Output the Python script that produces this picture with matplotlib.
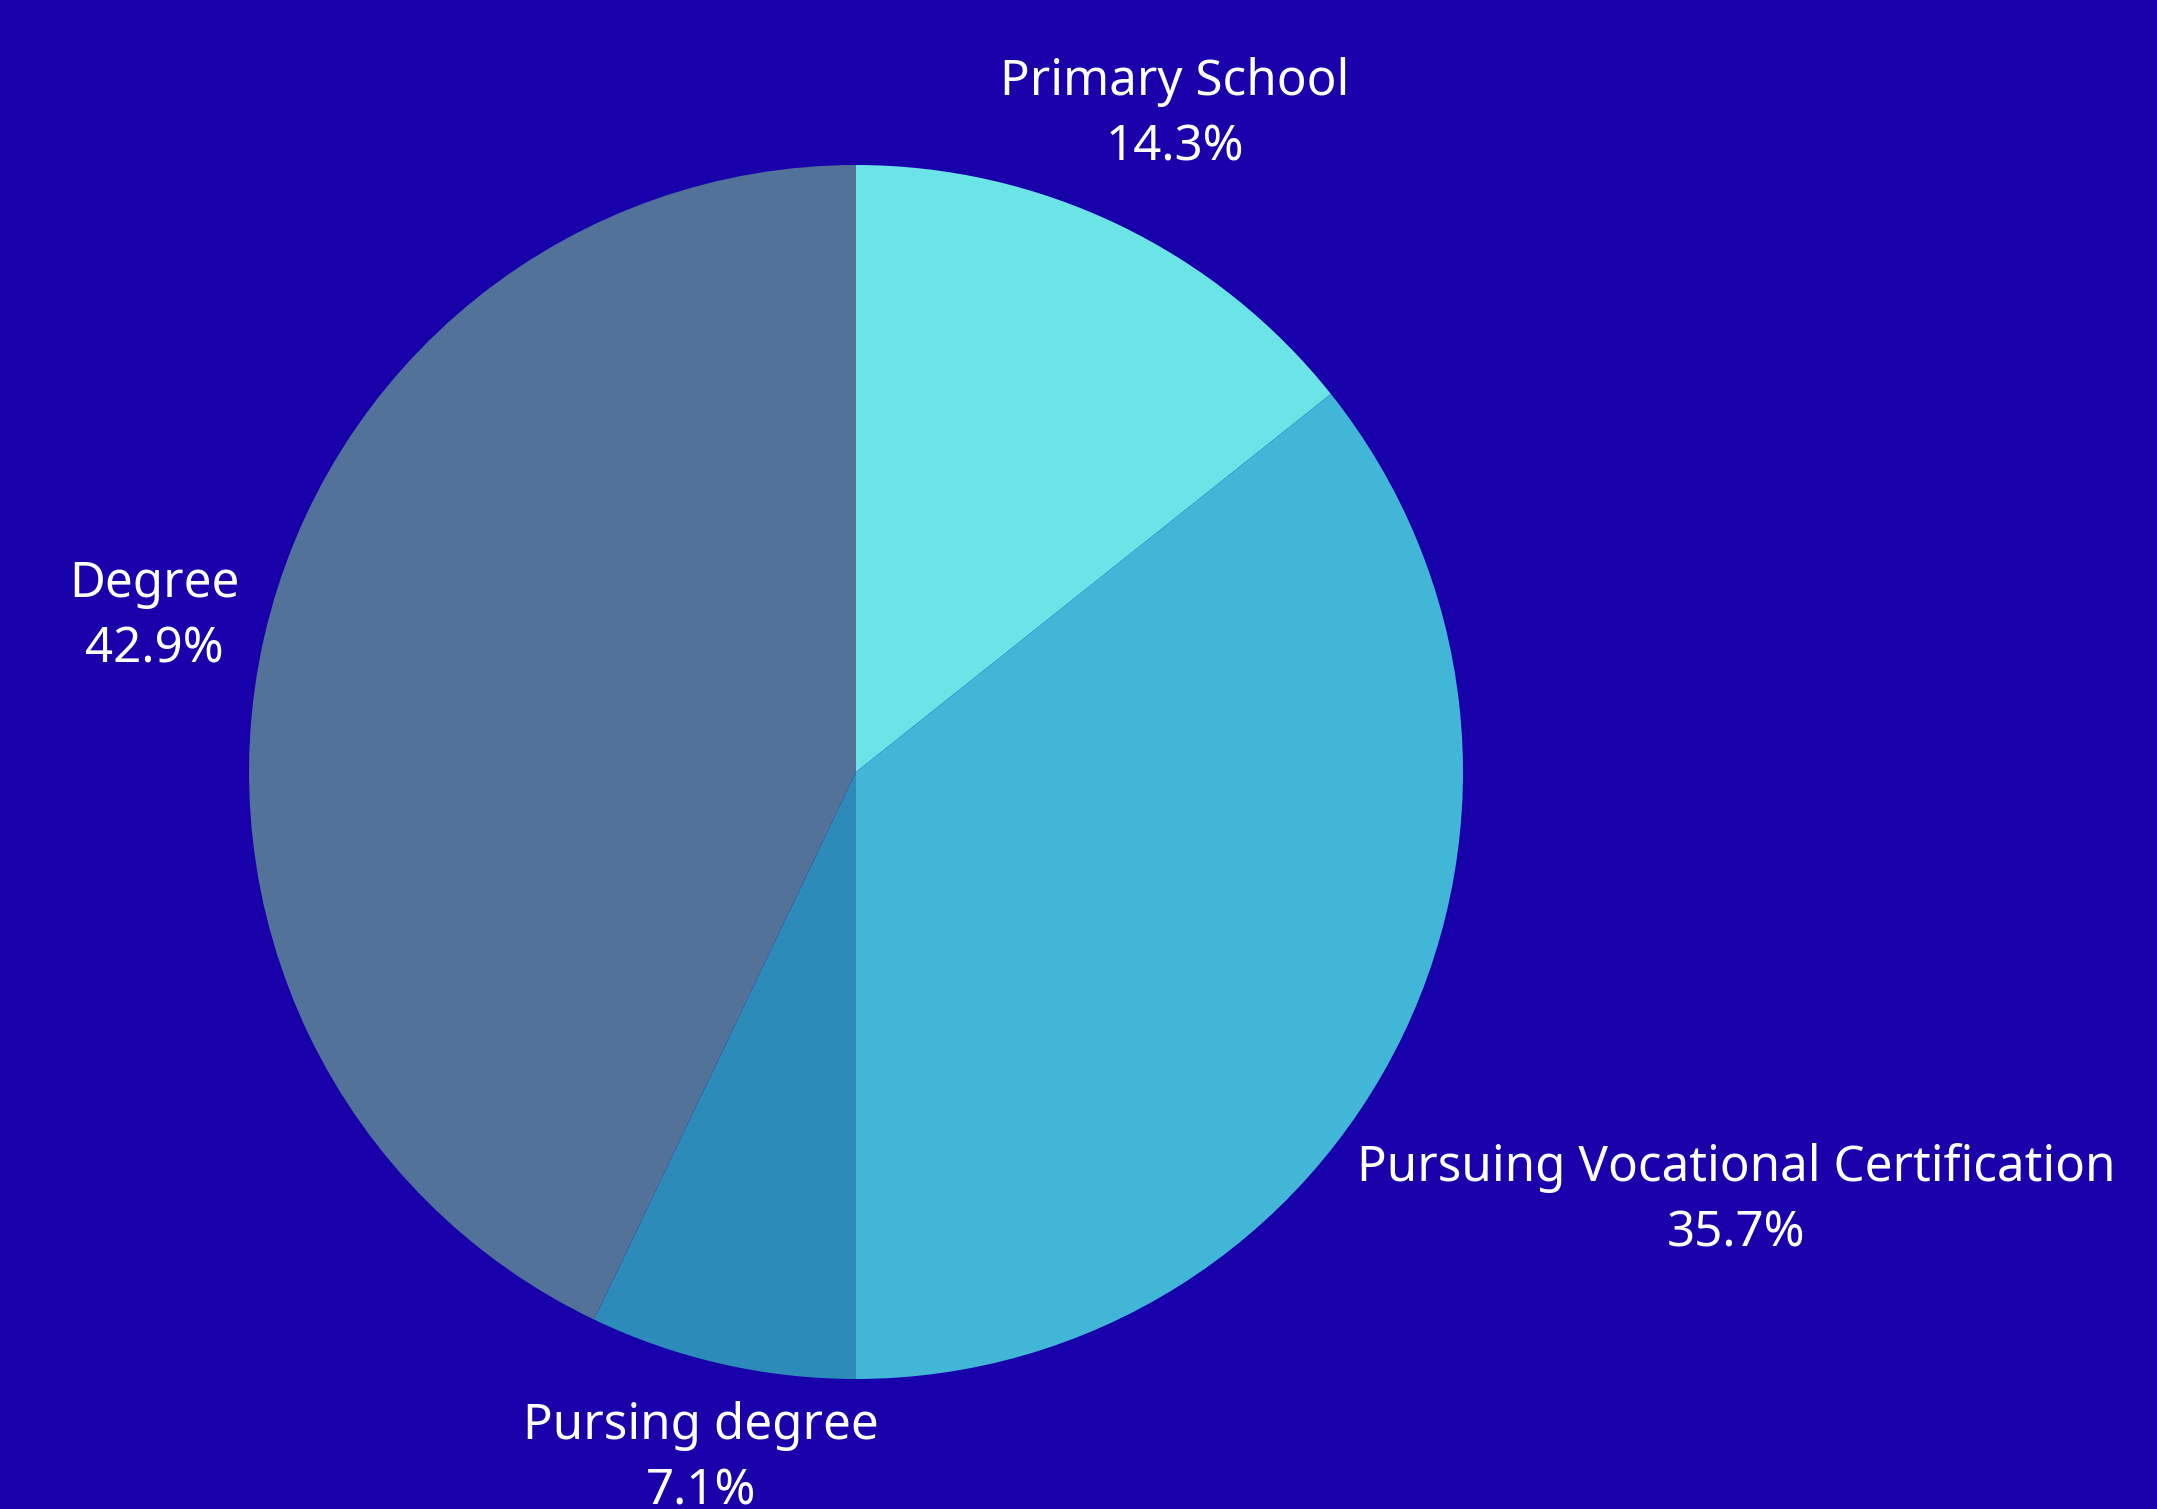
import numpy as np
import matplotlib
matplotlib.use("Agg")
import matplotlib.pyplot as plt

categories = ["Primary School", "Pursuing Vocational Certification", "Pursing degree", "Degree"]
values = [14.3, 35.7, 7.1, 42.9]
colors = ["#6AE4E6", "#42B6D6", "#2D8BBA", "#52729A"]
label_dist = [1.21, 1.61, 1.153, 1.185]

bg = "#1800AA"
W, H = 2157, 1509
fig = plt.figure(figsize=(W / 100, H / 100), dpi=100, facecolor=bg)
ax = fig.add_axes([0, 0, 1, 1])
ax.set_facecolor(bg)

wedges, _ = ax.pie(values, colors=colors, startangle=90, counterclock=False,
                   radius=1.0, center=(0, 0), frame=True,
                   wedgeprops=dict(linewidth=0, antialiased=True))

cx, cy, R = 856, 772, 607
ax.set_xlim(-cx / R, (W - cx) / R)
ax.set_ylim(-(H - cy) / R, cy / R)
ax.set_aspect("auto")
ax.axis("off")

for w, cat, v, d in zip(wedges, categories, values, label_dist):
    ang = np.deg2rad((w.theta1 + w.theta2) / 2)
    x, y = d * np.cos(ang), d * np.sin(ang)
    ax.annotate(f"{cat}\n{v:.1f}%", xy=(x, y), xytext=(0, -3), textcoords="offset points",
                ha="center", va="center", color="white",
                fontsize=35.5, family=["Noto Sans", "DejaVu Sans"], linespacing=1.4)

fig.savefig("out.png", dpi=100, facecolor=bg)
